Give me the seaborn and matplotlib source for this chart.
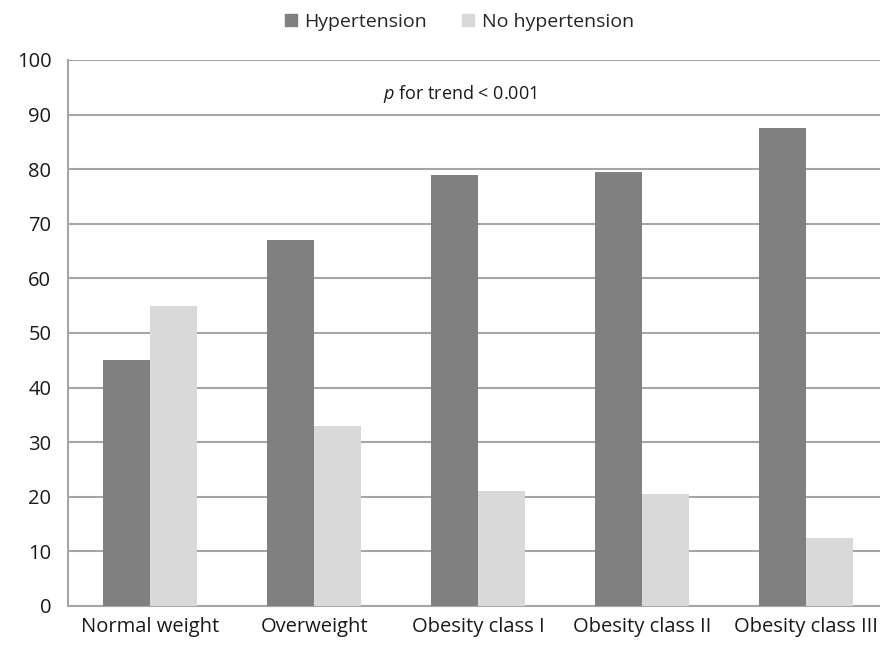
import pandas as pd
import matplotlib.pyplot as plt
import seaborn as sns
from matplotlib.patches import Patch

categories = ['Normal weight', 'Overweight', 'Obesity class I',
              'Obesity class II', 'Obesity class III']
hypertension = [45, 67, 79, 79.5, 87.5]
no_hypertension = [55, 33, 21, 20.5, 12.5]
groups = ['Hypertension', 'No hypertension']
colors = ['#808080', '#d9d9d9']

df = pd.DataFrame({
    'category': categories * 2,
    'group': [groups[0]] * 5 + [groups[1]] * 5,
    'value': hypertension + no_hypertension,
})

sns.set_style('white')
plt.rcParams['font.family'] = ['Open Sans', 'DejaVu Sans']
plt.rcParams['mathtext.fontset'] = 'custom'
plt.rcParams['mathtext.it'] = 'Open Sans:italic'

fig = plt.figure(figsize=(8.8, 6.5), dpi=100)
ax = fig.add_axes([0.0773, 0.0677, 0.932, 0.84])

sns.barplot(data=df, x='category', y='value', hue='group', palette=colors,
            width=0.57, gap=0, saturation=1, linewidth=0, ax=ax,
            legend=False, zorder=3)

ax.set_ylim(0, 100)
ax.set_yticks(range(0, 101, 10))
ax.set_xlim(-0.5, 4.5)
ax.yaxis.grid(True, color='#a6a6a6', linewidth=1.5, zorder=0)
ax.set_axisbelow(True)

for s in ['top', 'right']:
    ax.spines[s].set_visible(False)
for s in ['left', 'bottom']:
    ax.spines[s].set_color('#a6a6a6')
    ax.spines[s].set_linewidth(1.5)

ax.set_xticks([i - 0.5 for i in range(6)], minor=True)
ax.tick_params(axis='x', which='minor', length=6, color='#a6a6a6', width=1.2)
ax.tick_params(axis='x', which='major', length=0, labelsize=14.5, pad=8, colors='#1a1a1a')
ax.tick_params(axis='y', length=6, color='#a6a6a6', width=1.2, labelsize=14.5,
               pad=6, colors='#1a1a1a')
ax.set_xlabel('')
ax.set_ylabel('')

ax.text(1.89, 93.8, r'$p$ for trend < 0.001', ha='center', va='center',
        fontsize=13, color='#1a1a1a')

handles = [Patch(color=c, label=g) for g, c in zip(groups, colors)]
fig.legend(handles=handles, loc='center', bbox_to_anchor=(0.522, 0.966), ncol=2,
           frameon=False, fontsize=14, handlelength=0.6, handleheight=0.6,
           handletextpad=0.4, columnspacing=1.8)

plt.savefig('out.png', dpi=100)
